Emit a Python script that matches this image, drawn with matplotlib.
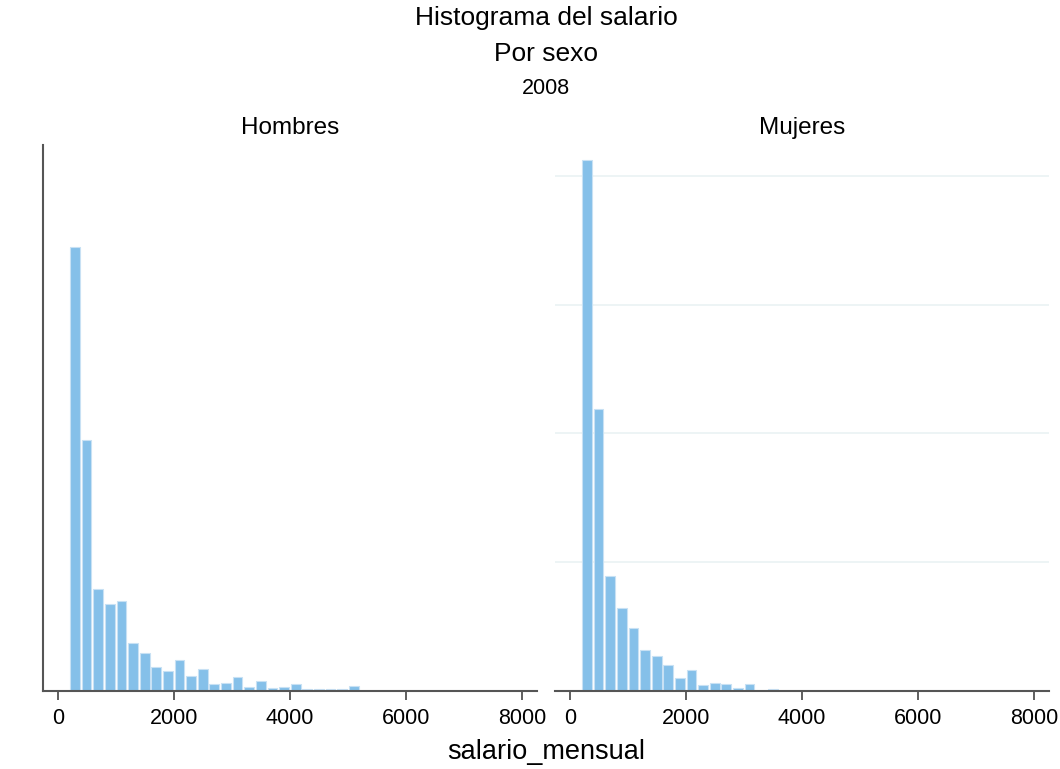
import numpy as np
import matplotlib
matplotlib.use("Agg")
import matplotlib.pyplot as plt

plt.rcParams['font.family'] = ['Liberation Sans', 'DejaVu Sans']

# Histogram data (density, in units of 1e-4), bins of width 200 starting at ~212
bin_start = 212
bin_width = 200
hombres = [17.24, 9.74, 3.95, 3.38, 3.50, 1.84, 1.46, 0.92, 0.75, 1.18,
           0.59, 0.84, 0.27, 0.30, 0.54, 0.14, 0.38, 0.10, 0.13, 0.27,
           0.08, 0.08, 0.08, 0.08, 0.19]
mujeres = [20.62, 10.94, 4.46, 3.22, 2.44, 1.57, 1.36, 1.01, 0.49, 0.82,
           0.24, 0.31, 0.27, 0.10, 0.27, 0.0, 0.05]
panels = ['Hombres', 'Mujeres']
xticks = [0, 2000, 4000, 6000, 8000]
grid_y = [5, 10, 15, 20]

bar_color = '#85C0E9'
fig = plt.figure(figsize=(10.6, 7.69), dpi=100)
ax1 = fig.add_axes([43/1060, 1 - 690.7/769, 494/1060, 545.7/769])
ax2 = fig.add_axes([555/1060, 1 - 690.7/769, 494/1060, 545.7/769])

for ax, data, name in zip([ax1, ax2], [hombres, mujeres], panels):
    data = np.array(data) * 1e-4
    lefts = bin_start + bin_width * np.arange(len(data))
    ax.bar(lefts, data, width=bin_width * 0.84, align='edge', color=bar_color,
           edgecolor='#C8E1F4', linewidth=0.8, zorder=3)
    ax.set_xlim(-255, 8252)
    ax.set_ylim(0, 21.2e-4)
    ax.set_xticks(xticks)
    ax.set_xticklabels([str(t) for t in xticks], fontsize=15.5)
    ax.tick_params(axis='x', direction='out', length=6.3, width=1.1,
                   color='#333333', pad=6)
    ax.set_yticks([])
    for s in ['top', 'right']:
        ax.spines[s].set_visible(False)
    ax.spines['bottom'].set_color('#555555')
    ax.spines['bottom'].set_linewidth(1.5)
    ax.spines['bottom'].set_zorder(5)
    ax.set_title(name, fontsize=17.5, pad=8)

ax1.spines['left'].set_color('#555555')
ax1.spines['left'].set_linewidth(1.5)
ax2.spines['left'].set_visible(False)
for g in grid_y:
    ax2.axhline(g * 1e-4, color='#EAF2F3', linewidth=1.2, zorder=1)

fig.text(546/1060, 1 - 18/769, 'Histograma del salario', ha='center', va='center', fontsize=19)
fig.text(546/1060, 1 - 54/769, 'Por sexo', ha='center', va='center', fontsize=19)
fig.text(546/1060, 1 - 88/769, '2008', ha='center', va='center', fontsize=15.5)
fig.text(546/1060, 1 - 752/769, 'salario_mensual', ha='center', va='center', fontsize=19.5)

fig.savefig('out.png', dpi=100)
